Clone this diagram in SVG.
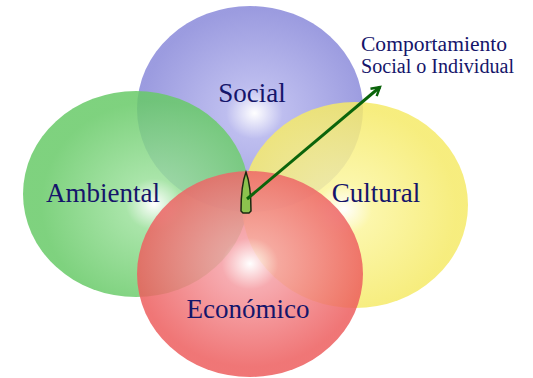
<svg xmlns="http://www.w3.org/2000/svg" width="533" height="378" viewBox="0 0 533 378">
<defs>
<radialGradient id="gBlue" cx="0.52" cy="0.52" r="0.5">
<stop offset="0" stop-color="#ffffff"/>
<stop offset="0.25" stop-color="#b2b2ec"/>
<stop offset="1" stop-color="#8a8ada"/>
</radialGradient>
<radialGradient id="gGreen" cx="0.58" cy="0.55" r="0.5">
<stop offset="0" stop-color="#ffffff"/>
<stop offset="0.25" stop-color="#9ae09a"/>
<stop offset="1" stop-color="#68ca68"/>
</radialGradient>
<radialGradient id="gYellow" cx="0.45" cy="0.52" r="0.5">
<stop offset="0" stop-color="#ffffff"/>
<stop offset="0.25" stop-color="#fbf59c"/>
<stop offset="1" stop-color="#f5ea68"/>
</radialGradient>
<radialGradient id="gRed" cx="0.5" cy="0.45" r="0.5">
<stop offset="0" stop-color="#ffffff"/>
<stop offset="0.25" stop-color="#f59ca2"/>
<stop offset="1" stop-color="#ed5e5e"/>
</radialGradient>
<marker id="arrow" viewBox="0 0 10 10" refX="8" refY="5" markerWidth="4" markerHeight="4" orient="auto" markerUnits="strokeWidth">
<polyline points="1,1 8,5 1,9" fill="none" stroke="#0b640b" stroke-width="2"/>
</marker>
</defs>
<style>
.c{opacity:0.85}
text{font-family:'Liberation Serif','DejaVu Serif',serif;fill:#15156a}
.big{font-size:27px;text-anchor:middle}
.small{font-size:20px}
</style>
<rect width="533" height="378" fill="#ffffff"/>
<g id="social"><ellipse class="c" cx="250" cy="109" rx="113" ry="103" fill="url(#gBlue)"/></g>
<g id="ambiental"><ellipse class="c" cx="136" cy="194" rx="113" ry="103" fill="url(#gGreen)"/></g>
<g id="cultural"><ellipse class="c" cx="355" cy="205" rx="113" ry="103" fill="url(#gYellow)"/></g>
<g id="economico"><ellipse class="c" cx="250" cy="274" rx="113" ry="103" fill="url(#gRed)"/></g>
<g id="labels">
<text class="big" x="252" y="102">Social</text>
<text class="big" x="103" y="202">Ambiental</text>
<text class="big" x="376" y="202">Cultural</text>
<text class="big" x="248" y="318">Económico</text>
</g>
<g id="comportamiento">
<text class="small" x="361" y="51" textLength="146" lengthAdjust="spacingAndGlyphs">Comportamiento</text>
<text class="small" x="361" y="73" textLength="153" lengthAdjust="spacingAndGlyphs">Social o Individual</text>
</g>
<g id="leaf"><path d="M246,172 C249,180 251,195 251,211 L249,213 L243,213 L241,211 C241,195 243,180 246,172 Z" fill="#8cc24e" stroke="#1a2a10" stroke-width="1.5"/></g>
<g id="connectors">
<line x1="247" y1="199" x2="380" y2="87" stroke="#0b640b" stroke-width="3" marker-end="url(#arrow)"/>
</g>
</svg>
